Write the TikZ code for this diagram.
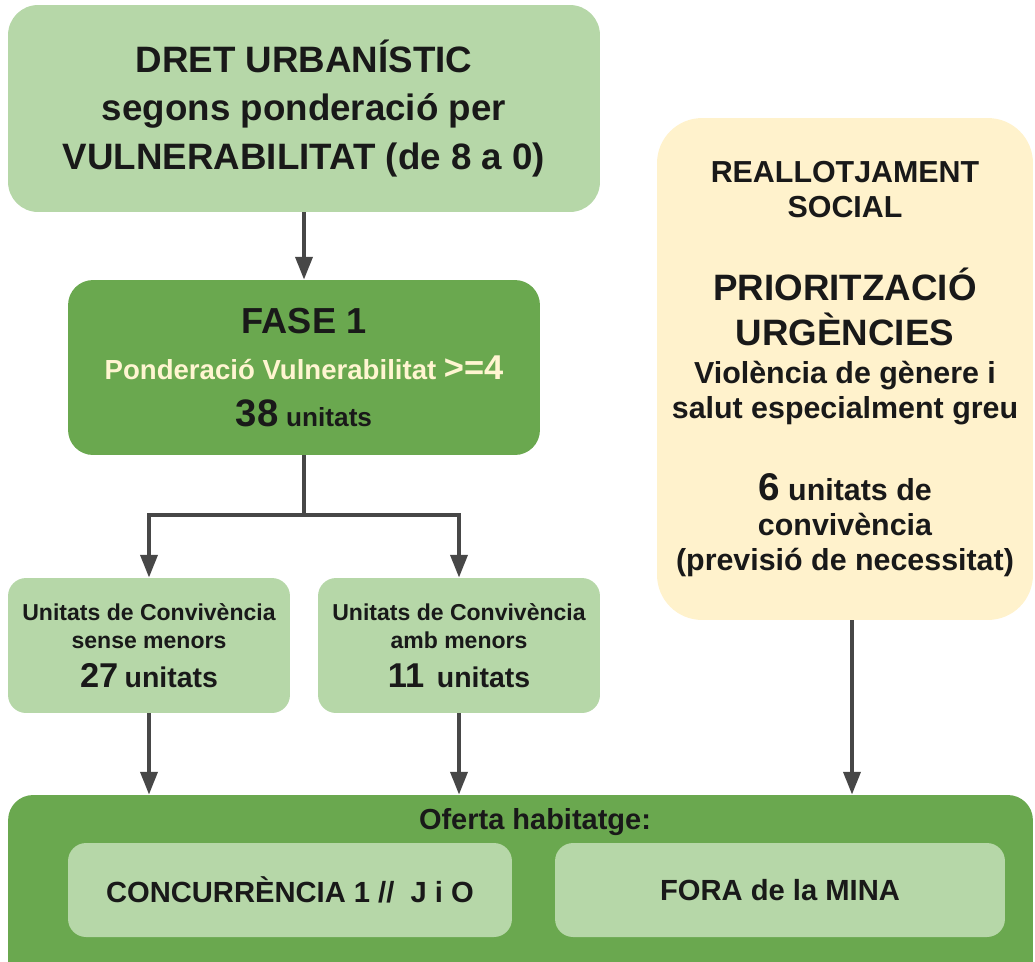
\documentclass[tikz,border=0pt]{standalone}
\usepackage{fontspec}
\setmainfont{Liberation Sans}
\usetikzlibrary{arrows.meta}

\definecolor{verdeclaro}{HTML}{B6D7A8}
\definecolor{verde}{HTML}{6AA84F}
\definecolor{crema}{HTML}{FFF2CC}
\definecolor{textocrema}{HTML}{FFF5D1}
\definecolor{gris}{HTML}{474747}

\begin{document}
\begin{tikzpicture}[
    x=0.02cm, y=-0.02cm,
    every node/.style={font=\bfseries, align=center, inner sep=0pt, text=black!90},
    caja/.style={rectangle, minimum width=#1},
    titulo/.style={caja=11.84cm, fill=verdeclaro, rounded corners=0.6cm, minimum height=4.14cm,
        font=\fontsize{20.9}{27.8}\selectfont\bfseries},
    fase/.style={caja=9.44cm, fill=verde, rounded corners=0.5cm, minimum height=3.5cm,
        font=\fontsize{15.7}{26.4}\selectfont\bfseries},
    grupo/.style={caja=5.64cm, fill=verdeclaro, rounded corners=0.36cm, minimum height=2.7cm,
        font=\fontsize{13.1}{15.9}\selectfont\bfseries},
    urgencia/.style={caja=7.52cm, fill=crema, rounded corners=0.9cm, minimum height=10.04cm,
        font=\fontsize{17.3}{19.8}\selectfont\bfseries},
    oferta/.style={caja=20.5cm, fill=verde, rounded corners=0.5cm, minimum height=3.9cm},
    opcion/.style={caja=#1, fill=verdeclaro, rounded corners=0.36cm, minimum height=1.88cm,
        font=\fontsize{16.6}{19}\selectfont\bfseries},
    rotulo/.style={font=\fontsize{16.5}{19}\selectfont\bfseries},
    flecha/.style={-{Triangle[width=9.6pt,length=13pt]}, line width=2.3pt, draw=gris},
    linea/.style={line width=2.3pt, draw=gris}
]
    \useasboundingbox (0,0) rectangle (1035,961);
    \clip (0,0) rectangle (1035,961);

    \node[titulo] (dret) at (304,108.5)
        {DRET URBANÍSTIC\\segons ponderació per\\VULNERABILITAT (de 8 a 0)};
    \node[fase] (fase) at (304,367.5)
        {{\fontsize{20.6}{20}\selectfont FASE 1}\\
         {\color{textocrema}Ponderació Vulnerabilitat {\fontsize{19.6}{20}\selectfont >=4}}\\
         {\fontsize{21.8}{20}\selectfont 38} {\fontsize{14.9}{20}\selectfont unitats}};

    \node[grupo] (sin) at (149,645.5)
        {Unitats de Convivència\\sense menors\\[6.2pt]
         {\fontsize{19.6}{20}\selectfont 27} {\fontsize{16.2}{20}\selectfont unitats}};
    \node[grupo] (amb) at (459,645.5)
        {Unitats de Convivència\\amb menors\\[6.2pt]
         {\fontsize{19.6}{20}\selectfont 11}~~{\fontsize{16.2}{20}\selectfont unitats}};

    \node[urgencia] (reall) at (845,369)
        {REALLOTJAMENT\\SOCIAL\\[27.8pt]
         {\fontsize{20.9}{20}\selectfont PRIORITZACIÓ}\\[5.7pt]
         {\fontsize{20.9}{20}\selectfont URGÈNCIES}\\[1.7pt]
         Violència de gènere i\\salut especialment greu\\[27.2pt]
         {\fontsize{22}{20}\selectfont 6} unitats de\\convivència\\(previsió de necessitat)};

    \node[oferta] (oferta) at (520.5,892.5) {};
    \node[rotulo] (titoferta) at (535,822) {Oferta habitatge:};
    \node[opcion=8.88cm] (conc) at (290,890) {CONCURRÈNCIA 1 //~~J i O};
    \node[opcion=9cm]    (fora) at (780,890) {FORA de la MINA};

    % Conexiones
    \coordinate (bif) at (304,515);
    \draw[flecha] (dret) -- (fase);
    \draw[linea]  (fase) -- (bif);
    \draw[flecha] (bif) -| (sin);
    \draw[flecha] (bif) -| (amb);
    \draw[flecha] (sin) -- (sin |- oferta.north);
    \draw[flecha] (amb) -- (amb |- oferta.north);
    \draw[flecha] ([xshift=0.14cm]reall.south) -- ([xshift=0.14cm]reall.south |- oferta.north);
\end{tikzpicture}
\end{document}
